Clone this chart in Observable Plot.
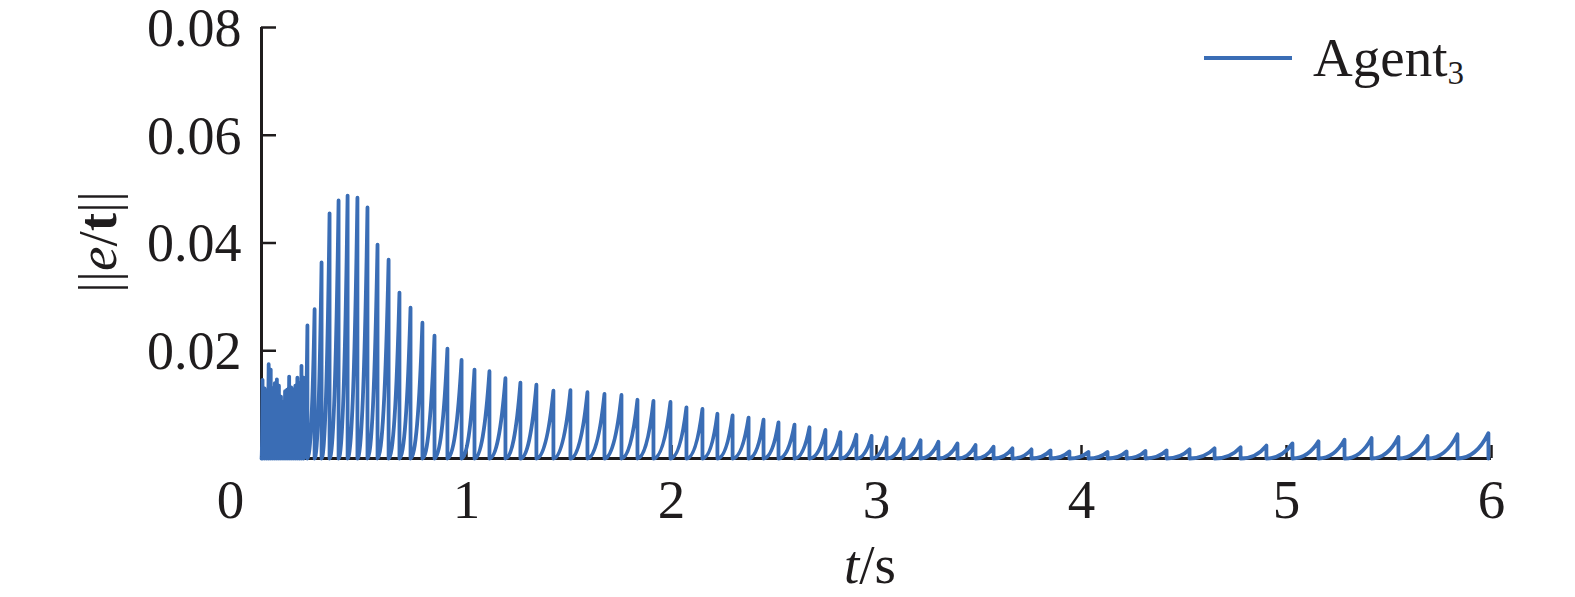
<!DOCTYPE html>
<html>
<head>
<meta charset="utf-8">
<script src="https://cdn.jsdelivr.net/npm/d3@7"></script>
<script src="https://cdn.jsdelivr.net/npm/@observablehq/plot@0.6"></script>
<style>
  html, body { margin: 0; padding: 0; background: #fff; }
  #chart { width: 1575px; height: 597px; }
</style>
</head>
<body>
<div id="chart"></div>
<script>
// Event-trigger instants (s) and the error norm reached just before each reset
const triggerTimes = [
  0.005, 0.015, 0.025, 0.035, 0.045, 0.055, 0.065, 0.075, 0.085, 0.095,
  0.105, 0.115, 0.125, 0.135, 0.145, 0.155, 0.165, 0.175, 0.185, 0.195, 0.205,
  0.224, 0.259, 0.293, 0.332, 0.376, 0.420, 0.468, 0.517, 0.566, 0.620,
  0.673, 0.727, 0.785, 0.844, 0.907, 0.976, 1.039, 1.112, 1.190, 1.263,
  1.341, 1.424, 1.507, 1.590, 1.673, 1.756, 1.834, 1.912, 1.995, 2.073,
  2.151, 2.224, 2.298, 2.376, 2.449, 2.522, 2.600, 2.673, 2.751, 2.824,
  2.902, 2.976, 3.049, 3.132, 3.215, 3.302, 3.395, 3.483, 3.571, 3.663,
  3.756, 3.849, 3.941, 4.034, 4.127, 4.220, 4.312, 4.415, 4.527, 4.649,
  4.776, 4.902, 5.029, 5.156, 5.283, 5.415, 5.546, 5.688, 5.834, 5.985
];
const peakValues = [
  0.0146, 0.0130, 0.0125, 0.0175, 0.0165, 0.0130, 0.0140, 0.0147, 0.0135, 0.0115,
  0.0105, 0.0125, 0.0128, 0.0152, 0.0132, 0.0128, 0.0135, 0.0150, 0.0140, 0.0172, 0.0150,
  0.0247, 0.0277, 0.0364, 0.0455, 0.0479, 0.0488, 0.0484, 0.0466, 0.0397, 0.0369,
  0.0308, 0.0280, 0.0252, 0.0228, 0.0204, 0.0183, 0.0165, 0.0162, 0.0149, 0.0141,
  0.0137, 0.0126, 0.0127, 0.0123, 0.0120, 0.0118, 0.0109, 0.0107, 0.0105, 0.0095,
  0.0092, 0.0083, 0.0080, 0.0076, 0.0072, 0.0067, 0.0063, 0.0058, 0.0053, 0.0049,
  0.0044, 0.0042, 0.0039, 0.0036, 0.0034, 0.0031, 0.0028, 0.0025, 0.0022, 0.0019,
  0.0017, 0.0015, 0.0013, 0.0012, 0.0012, 0.0013, 0.0014, 0.0015, 0.0017, 0.0019,
  0.0021, 0.0024, 0.0028, 0.0032, 0.0035, 0.0038, 0.0040, 0.0042, 0.0045, 0.0047
];
const xTicks = [1, 2, 3, 4, 5, 6];
const yTicks = [0.02, 0.04, 0.06, 0.08];
const originLabel = ["0"];
const seriesName = "Agent";
const seriesSub = "3";

// Build the sawtooth path: rise from 0 after each trigger, reset to 0 at the next
const points = [{t: 0, e: 0}];
triggerTimes.forEach((t, i) => {
  points.push({t, e: peakValues[i]});
  points.push({t, e: 0});
});

// Curve: concave-up rise between samples, straight vertical reset
function toothCurve(context) {
  let x0, y0, started = false;
  return {
    areaStart() {}, areaEnd() {},
    lineStart() { started = false; },
    lineEnd() {},
    point(x, y) {
      x = +x; y = +y;
      if (!started) { context.moveTo(x, y); started = true; }
      else { context.quadraticCurveTo(x0 + 0.6 * (x - x0), y0, x, y); }
      x0 = x; y0 = y;
    }
  };
}

const ink = "#1f1c1d";
const blue = "#3a6db5";
const font = "'Liberation Serif', 'Times New Roman', serif";
const fs = 55;

const chart = Plot.plot({
  width: 1575,
  height: 597,
  marginLeft: 261,
  marginRight: 84,
  marginTop: 27,
  marginBottom: 139,
  style: {fontFamily: font, fontSize: fs + "px", background: "#fff", color: ink},
  x: {domain: [0, 6]},
  y: {domain: [0, 0.08]},
  marks: [
    Plot.axisX({ticks: xTicks, tickSize: -13, fill: "none", stroke: ink, strokeWidth: 2.5, label: null}),
    Plot.axisX({ticks: xTicks, tickSize: 0, tickPadding: 20, tickFormat: d => String(d), fill: ink, fontSize: fs, label: null}),
    Plot.axisY({ticks: yTicks, tickSize: -15, fill: "none", stroke: ink, strokeWidth: 2.5, label: null}),
    Plot.axisY({ticks: yTicks, tickSize: 0, tickPadding: 20, dy: 1, tickFormat: d => d.toFixed(2), fill: ink, fontSize: 54, label: null}),
    Plot.text(originLabel, {x: 0, y: 0, text: d => d, dx: -31, dy: 20, lineAnchor: "top", fill: ink, fontSize: fs}),
    Plot.ruleX([0], {stroke: ink, strokeWidth: 3}),
    Plot.ruleY([0], {stroke: ink, strokeWidth: 3}),
    Plot.line(points, {x: "t", y: "e", stroke: blue, strokeWidth: 3.8, curve: toothCurve, strokeLinejoin: "round", strokeLinecap: "round"})
  ]
});

document.getElementById("chart").appendChild(chart);

const svg = d3.select(chart);

// y-axis title ||e/t||
const yl = svg.append("text")
  .attr("transform", "translate(116,242) rotate(-90)")
  .attr("text-anchor", "middle")
  .attr("font-family", font)
  .attr("font-size", fs)
  .attr("fill", ink);
yl.append("tspan").text("||");
yl.append("tspan").attr("font-style", "italic").text("e");
yl.append("tspan").text("/");
yl.append("tspan").attr("font-weight", "bold").text("t");
yl.append("tspan").text("||");

// x-axis title t/s
const xl = svg.append("text")
  .attr("x", 870).attr("y", 583)
  .attr("text-anchor", "middle")
  .attr("font-family", font)
  .attr("font-size", fs)
  .attr("fill", ink);
xl.append("tspan").attr("font-style", "italic").text("t");
xl.append("tspan").text("/s");

// legend
svg.append("line")
  .attr("x1", 1204).attr("x2", 1292).attr("y1", 58).attr("y2", 58)
  .attr("stroke", blue).attr("stroke-width", 4);
const lg = svg.append("text")
  .attr("x", 1313).attr("y", 76)
  .attr("text-anchor", "start")
  .attr("font-family", font)
  .attr("font-size", fs)
  .attr("fill", ink);
lg.append("tspan").text(seriesName);
lg.append("tspan").attr("font-size", 33).attr("dy", 8).text(seriesSub);
</script>
</body>
</html>
